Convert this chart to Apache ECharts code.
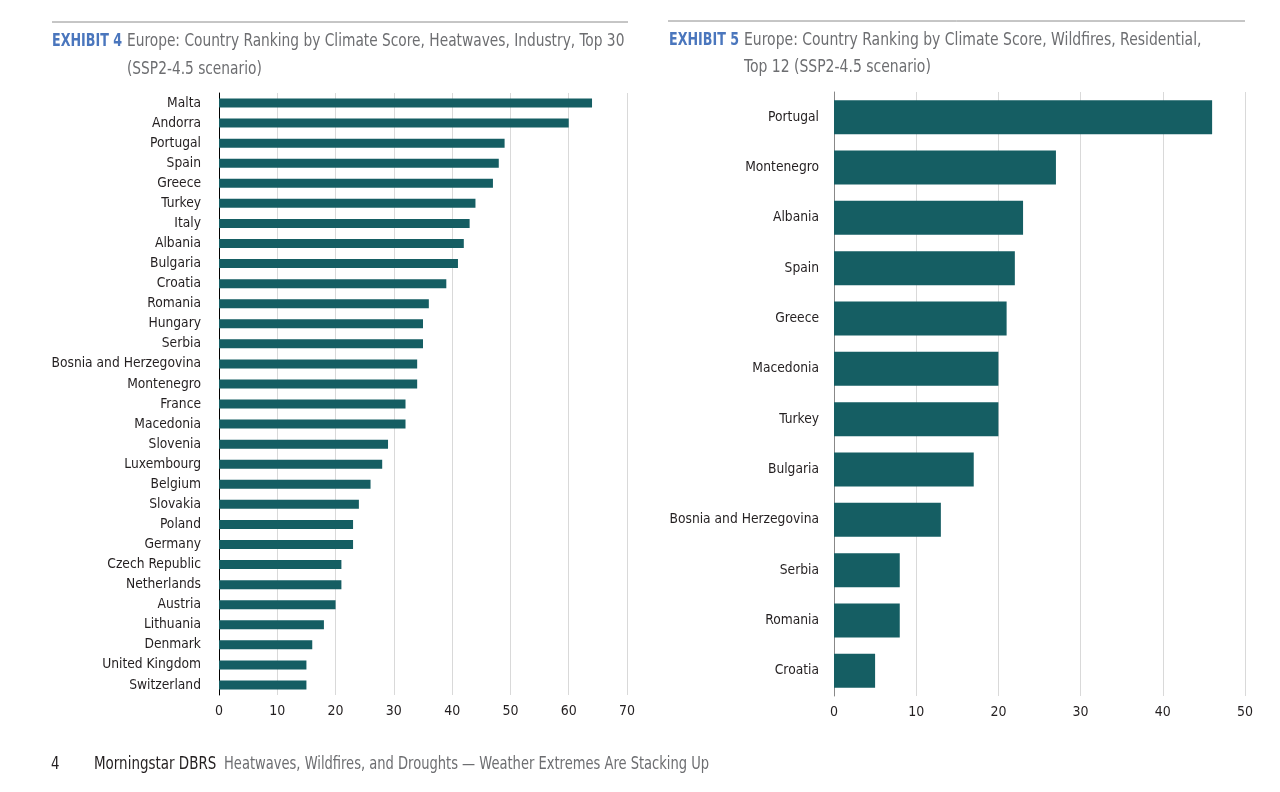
<!DOCTYPE html>
<html>
<head>
<meta charset="utf-8">
<script src="https://cdn.jsdelivr.net/npm/echarts@6/dist/echarts.min.js"></script>
<style>
html,body{margin:0;padding:0;background:#fff;}
#chart{width:1280px;height:792px;}
</style>
</head>
<body>
<div id="chart"></div>
<script>
// Exhibit 4: Heatwaves, Industry, Top 30
var heatCountries = ["Malta","Andorra","Portugal","Spain","Greece","Turkey","Italy","Albania","Bulgaria","Croatia","Romania","Hungary","Serbia","Bosnia and Herzegovina","Montenegro","France","Macedonia","Slovenia","Luxembourg","Belgium","Slovakia","Poland","Germany","Czech Republic","Netherlands","Austria","Lithuania","Denmark","United Kingdom","Switzerland"];
var heatScores = [64,60,49,48,47,44,43,42,41,39,36,35,35,34,34,32,32,29,28,26,24,23,23,21,21,20,18,16,15,15];
var heatTicks = {min:0, max:70, interval:10};

// Exhibit 5: Wildfires, Residential, Top 12
var fireCountries = ["Portugal","Montenegro","Albania","Spain","Greece","Macedonia","Turkey","Bulgaria","Bosnia and Herzegovina","Serbia","Romania","Croatia"];
var fireScores = [46,27,23,22,21,20,20,17,13,8,8,5];
var fireTicks = {min:0, max:50, interval:10};

var FONT = '"Liberation Sans Narrow","DejaVu Sans Condensed","Roboto",sans-serif';
var BAR = '#155e63';
var TXT = '#231f20';
var GRAY = '#6d6e71';
var BLUE = '#4a76bd';

var chart = echarts.init(document.getElementById('chart'), null, {renderer:'canvas'});

function catAxis(idx, data, lineColor, margin){
  return {
    type:'category', gridIndex:idx, data:data, inverse:true,
    axisLine:{show:true, lineStyle:{color:lineColor, width:1}},
    axisTick:{show:false},
    axisLabel:{color:TXT, fontFamily:FONT, fontSize:13.7, margin:margin},
    splitLine:{show:false}
  };
}
function valAxis(idx, t){
  return {
    type:'value', gridIndex:idx, min:t.min, max:t.max, interval:t.interval,
    axisLine:{show:false}, axisTick:{show:false},
    axisLabel:{color:TXT, fontFamily:FONT, fontSize:14, margin:9},
    splitLine:{show:true, lineStyle:{color:'#d9d9d9', width:1}}
  };
}
function txt(x, y, s, color, font, sx){
  return {type:'text', x:x, y:y, scaleX:sx, scaleY:1, style:{text:s, fill:color, font:font, textVerticalAlign:'middle', verticalAlign:'middle'}};
}

var option = {
  animation:false,
  backgroundColor:'#fff',
  grid:[
    {left:219, right:653, top:93, bottom:97, containLabel:false},
    {left:834, right:35, top:92, bottom:96, containLabel:false}
  ],
  xAxis:[valAxis(0, heatTicks), valAxis(1, fireTicks)],
  yAxis:[catAxis(0, heatCountries, '#000', 18), catAxis(1, fireCountries, '#888', 15)],
  series:[
    {type:'bar', xAxisIndex:0, yAxisIndex:0, data:heatScores, barWidth:9, itemStyle:{color:BAR}},
    {type:'bar', xAxisIndex:1, yAxisIndex:1, data:fireScores, barWidth:34, itemStyle:{color:BAR}}
  ],
  graphic:[
    {type:'line', shape:{x1:52,y1:22,x2:628,y2:22}, style:{stroke:'#8c8c8c', lineWidth:1}},
    {type:'line', shape:{x1:668,y1:21,x2:1245,y2:21}, style:{stroke:'#8c8c8c', lineWidth:1}},
    txt(52, 42, 'EXHIBIT 4', BLUE, 'bold 17px '+FONT, 0.83),
    txt(127, 42, 'Europe: Country Ranking by Climate Score, Heatwaves, Industry, Top 30', GRAY, '17px '+FONT, 0.9),
    txt(127, 70, '(SSP2-4.5 scenario)', GRAY, '17px '+FONT, 0.9),
    txt(669, 41, 'EXHIBIT 5', BLUE, 'bold 17px '+FONT, 0.83),
    txt(744, 41, 'Europe: Country Ranking by Climate Score, Wildfires, Residential,', GRAY, '17px '+FONT, 0.914),
    txt(744, 68, 'Top 12 (SSP2-4.5 scenario)', GRAY, '17px '+FONT, 0.914),
    txt(51, 765, '4', TXT, '17px '+FONT, 0.87),
    txt(94, 765, 'Morningstar DBRS', TXT, '17px '+FONT, 0.88),
    txt(224, 765, 'Heatwaves, Wildfires, and Droughts \u2014 Weather Extremes Are Stacking Up', GRAY, '17px '+FONT, 0.855)
  ]
};
chart.setOption(option);
</script>
</body>
</html>
